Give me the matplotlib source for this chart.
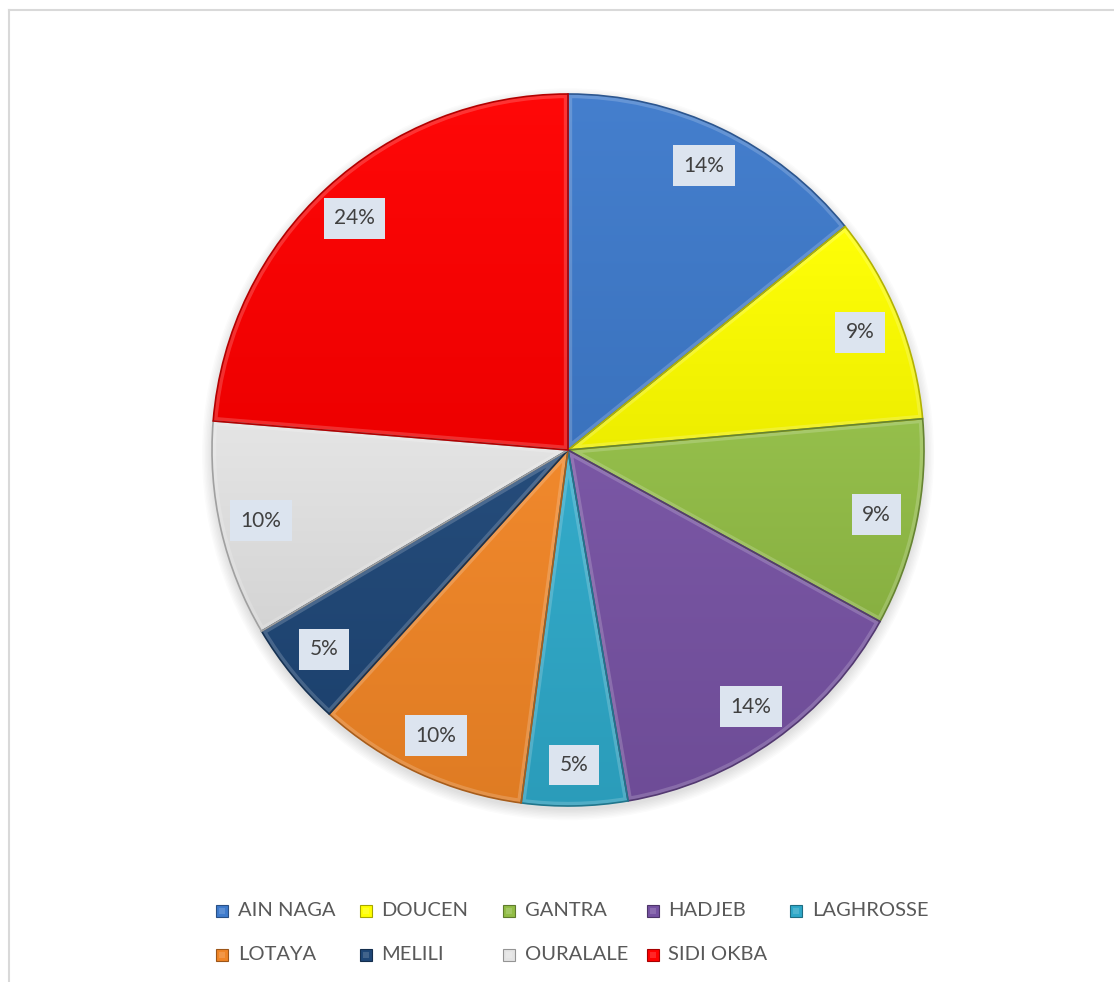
import numpy as np
import matplotlib
matplotlib.use("Agg")
import matplotlib.pyplot as plt
from matplotlib.patches import Rectangle, Circle, PathPatch
from matplotlib.colors import to_rgb
from matplotlib.lines import Line2D

# Share of each site (percent)
sites = ["AIN NAGA", "DOUCEN", "GANTRA", "HADJEB", "LAGHROSSE",
         "LOTAYA", "MELILI", "OURALALE", "SIDI OKBA"]
shares = [14.2, 9.4, 9.4, 14.3, 4.8, 9.6, 4.8, 9.8, 23.7]
colors = ["#3f7bcc", "#ffff00", "#92bd46", "#7652a2", "#2ea8c8",
          "#f08526", "#1f4777", "#e4e4e4", "#ff0000"]

W, H = 1114, 982
fig = plt.figure(figsize=(W / 100, H / 100), dpi=100)
fig.patch.set_facecolor("white")

# thin frame lines (top and left)
fig.add_artist(Line2D([9 / W, 1], [1 - 9.5 / H, 1 - 9.5 / H], color="#d9d9d9", lw=1.5))
fig.add_artist(Line2D([8.5 / W, 8.5 / W], [0, 1 - 9.5 / H], color="#d9d9d9", lw=1.5))

cx, cy, R = 568, 450, 356
ax = fig.add_axes([(cx - R) / W, (H - cy - R) / H, 2 * R / W, 2 * R / H])


def shade(c, f):
    r = np.array(to_rgb(c))
    if f >= 1:
        return tuple(r + (1 - r) * (f - 1))
    return tuple(r * f)


wedges, _, autotexts = ax.pie(
    shares, colors=colors, startangle=90, counterclock=False, radius=1.0,
    autopct="%1.0f%%", pctdistance=0.885,
    wedgeprops=dict(edgecolor="none", linewidth=0),
    textprops=dict(fontsize=15, color="#404040", family=["Lato", "DejaVu Sans"]),
)
ax.set_xlim(-1, 1)
ax.set_ylim(-1, 1)
ax.set_aspect("equal")
ax.axis("off")

# soft drop shadow under the pie
for i in range(8):
    ax.add_patch(Circle((0.0, -0.012), 1.0 + 0.004 * i, color="black",
                        alpha=0.016, lw=0, zorder=0, clip_on=False))

# gentle vertical gradient inside each wedge, an inner bevel band and a darker rim
for w, c in zip(wedges, colors):
    path = w.get_path()
    ext = path.get_extents()
    top, bot = shade(c, 1.03), shade(c, 0.93)
    grad = np.linspace(0, 1, 256)[:, None]
    img = np.array(top)[None, None, :] * (1 - grad[..., None]) + \
        np.array(bot)[None, None, :] * grad[..., None]
    im = ax.imshow(img, extent=[ext.x0, ext.x1, ext.y0, ext.y1],
                   origin="upper", aspect="auto", zorder=1,
                   interpolation="bilinear")
    im.set_clip_path(w)
    bevel = PathPatch(path, facecolor="none", edgecolor="white", alpha=0.18,
                      lw=6, zorder=2, transform=w.get_transform())
    ax.add_patch(bevel)
    bevel.set_clip_path(w)
    w.set_zorder(3)
    w.set_facecolor("none")
    w.set_edgecolor(shade(c, 0.7))
    w.set_linewidth(1.2)

for t in autotexts:
    t.set_zorder(5)
    t.set_bbox(dict(boxstyle="square,pad=0.5", facecolor="#dce4ef",
                    edgecolor="none", alpha=1.0))

# legend laid out on a regular grid, two rows
ncol = 5
x0, dx = 222, 143.5
rows_y = [911, 955]
sq = 12
for i, (name, c) in enumerate(zip(sites, colors)):
    r, k = divmod(i, ncol)
    xm = x0 + k * dx
    ym = rows_y[r]
    fig.add_artist(Rectangle(((xm - sq / 2) / W, (H - ym - sq / 2) / H), sq / W, sq / H,
                             facecolor=c, edgecolor=shade(c, 0.65), lw=0.8,
                             transform=fig.transFigure))
    fig.add_artist(Rectangle(((xm - sq / 4) / W, (H - ym - sq / 4) / H), sq / 2 / W, sq / 2 / H,
                             facecolor=shade(c, 1.15), edgecolor="none",
                             transform=fig.transFigure))
    fig.text((xm + 16) / W, (H - ym) / H, name, fontsize=14.5, color="#595959",
             va="center", ha="left", family=["Lato", "DejaVu Sans"])

fig.savefig("out.png", dpi=100, facecolor="white")
